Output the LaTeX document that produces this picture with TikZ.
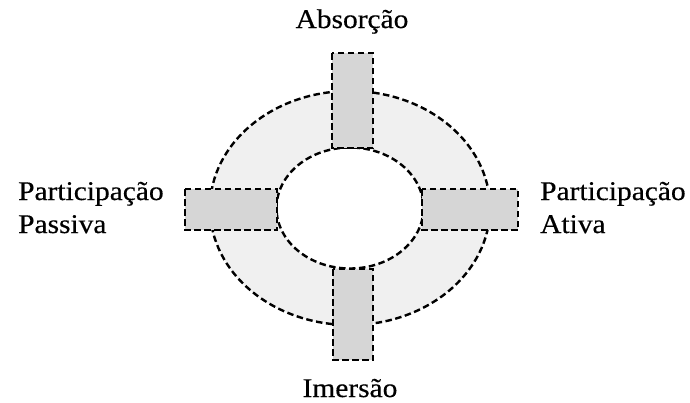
\documentclass[tikz,border=0pt]{standalone}
\usepackage{fontspec}
\setmainfont[FakeStretch=1.09,FakeBold=0.4]{Liberation Serif}
\definecolor{ringgray}{HTML}{F0F0F0}
\definecolor{barfill}{HTML}{D6D6D6}
\begin{document}
\begin{tikzpicture}[x=1pt,y=-1pt,
  dashline/.style={line width=2.4pt,dash pattern=on 6.5pt off 3.5pt,draw=black},
  bar/.style={dashline,fill=barfill},
  lbl/.style={inner sep=0pt,font=\fontsize{27}{33}\selectfont}]
\useasboundingbox[fill=white] (0,0) rectangle (690,402);
% ring
\draw[dashline,fill=ringgray] (350,208) ellipse [x radius=140,y radius=117];
\draw[dashline,fill=white] (350,208) ellipse [x radius=73.5,y radius=60.5];
% bars
\draw[bar] (332,53) rectangle (373,148) coordinate (topbar);
\draw[bar] (333,269) rectangle (373,360) coordinate (botbar);
\draw[bar] (185,189) rectangle (277,230) coordinate (leftbar);
\draw[bar] (422,189) rectangle (518,230) coordinate (rightbar);
% labels
\node[lbl,anchor=base] (abs) at (352,28) {Absorção};
\node[lbl,anchor=base] (ime) at (350,397) {Imersão};
\node[lbl,anchor=base west] (pp1) at (18,200) {Participação};
\node[lbl,anchor=base west] (pp2) at (18,233) {Passiva};
\node[lbl,anchor=base west] (pa1) at (540,200) {Participação};
\node[lbl,anchor=base west] (pa2) at (540,233) {Ativa};
\end{tikzpicture}
\end{document}
